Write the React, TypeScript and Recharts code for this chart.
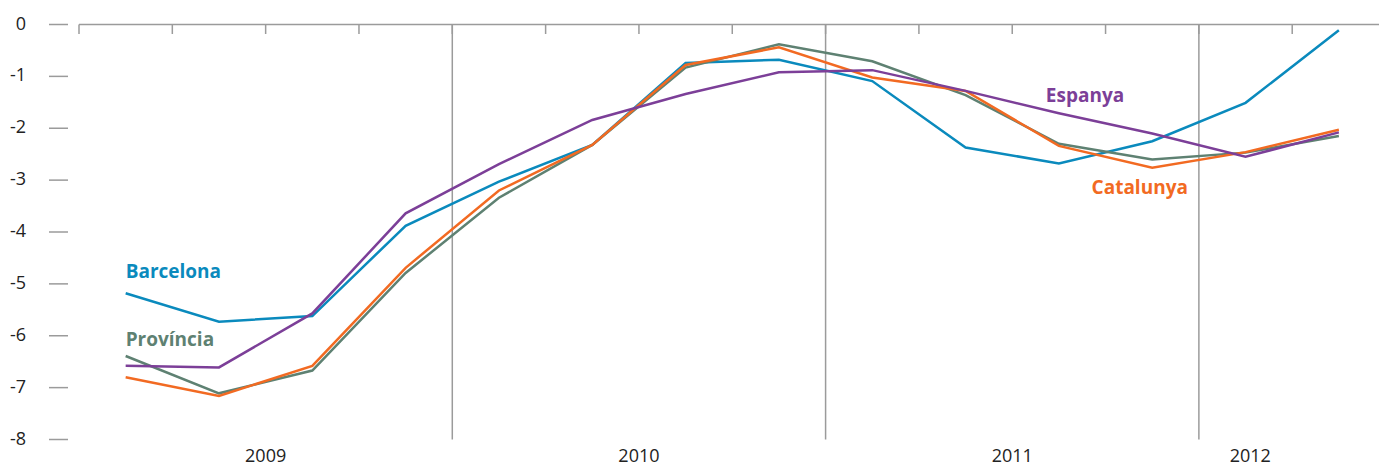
import { LineChart, Line, XAxis, YAxis, ReferenceLine, ReferenceDot } from "recharts";

// quarters 2009 T1 .. 2012 T2, x = quarter centre
const quarters = [0.5, 1.5, 2.5, 3.5, 4.5, 5.5, 6.5, 7.5, 8.5, 9.5, 10.5, 11.5, 12.5, 13.5];
const barcelona = [-5.18, -5.73, -5.62, -3.88, -3.03, -2.32, -0.74, -0.68, -1.09, -2.37, -2.68, -2.25, -1.51, -0.11];
const espanya = [-6.58, -6.61, -5.57, -3.64, -2.69, -1.84, -1.34, -0.92, -0.88, -1.28, -1.71, -2.1, -2.55, -2.08];
const catalunya = [-6.8, -7.16, -6.58, -4.69, -3.2, -2.32, -0.78, -0.44, -1.02, -1.28, -2.34, -2.76, -2.46, -2.03];
const provincia = [-6.39, -7.11, -6.67, -4.79, -3.34, -2.32, -0.83, -0.38, -0.71, -1.36, -2.3, -2.6, -2.47, -2.15];

const yTicks = [0, -1, -2, -3, -4, -5, -6, -7, -8];
const quarterTicks = [0, 1, 2, 3, 4, 5, 6, 7, 8, 9, 10, 11, 12, 13];
const yearBreaks = [4, 8, 12];
const yearTicks = [2, 6, 10, 12.55];
const yearLabels = ["2009", "2010", "2011", "2012"];

const data = quarters.map((q, i) => ({
  q,
  barcelona: barcelona[i],
  espanya: espanya[i],
  catalunya: catalunya[i],
  provincia: provincia[i],
}));

const GRID = "#9b9b9b";
const FONT = "'Open Sans', sans-serif";
const colors = {
  barcelona: "#0a8abd",
  espanya: "#7c3f98",
  catalunya: "#f26a22",
  provincia: "#5e8172",
};

const seriesLabels = [
  { text: "Barcelona", x: 0.5, y: -4.77, color: colors.barcelona },
  { text: "Província", x: 0.5, y: -6.08, color: colors.provincia },
  { text: "Espanya", x: 10.36, y: -1.36, color: colors.espanya },
  { text: "Catalunya", x: 10.85, y: -3.15, color: colors.catalunya },
];

const YTick = (props: any) => {
  const { y, payload } = props;
  return (
    <g>
      <line x1={49} x2={68} y1={y} y2={y} stroke={GRID} strokeWidth={1.5} />
      <text x={26} y={y} dy={5} textAnchor="end" fontSize={18} fontFamily={FONT} fill="#222">
        {payload.value}
      </text>
    </g>
  );
};

const QTick = (props: any) => {
  const { x } = props;
  return <line x1={x} x2={x} y1={24.5} y2={34} stroke={GRID} strokeWidth={1.5} />;
};

const YearTick = (props: any) => {
  const { x, index } = props;
  return (
    <text x={x} y={462} textAnchor="middle" fontSize={18} fontFamily={FONT} fill="#222">
      {yearLabels[index]}
    </text>
  );
};

export default function App() {
  return (
    <div style={{ position: "absolute", left: 0, top: 0, background: "#fff" }}>
      <LineChart width={1379} height={466} data={data} margin={{ top: 0.5, right: 0, bottom: 0.5, left: 0 }}>
        <XAxis
          xAxisId="q"
          orientation="top"
          type="number"
          dataKey="q"
          domain={[0, 13.93]}
          allowDataOverflow
          ticks={quarterTicks}
          tick={<QTick />}
          tickLine={false}
          axisLine={{ stroke: GRID, strokeWidth: 1.5 }}
          height={24}
        />
        <XAxis
          xAxisId="y"
          type="number"
          dataKey="q"
          domain={[0, 13.93]}
          allowDataOverflow
          ticks={yearTicks}
          tick={<YearTick />}
          tickLine={false}
          axisLine={false}
          height={26}
        />
        <YAxis
          type="number"
          domain={[-8, 0]}
          ticks={yTicks}
          tick={<YTick />}
          tickLine={false}
          axisLine={false}
          width={79}
          interval={0}
        />
        {yearBreaks.map((b) => (
          <ReferenceLine key={b} xAxisId="q" x={b} stroke={GRID} strokeWidth={1.5} />
        ))}
        <Line xAxisId="q" dataKey="barcelona" stroke={colors.barcelona} strokeWidth={2.5} dot={false} isAnimationActive={false} />
        <Line xAxisId="q" dataKey="provincia" stroke={colors.provincia} strokeWidth={2.5} dot={false} isAnimationActive={false} />
        <Line xAxisId="q" dataKey="catalunya" stroke={colors.catalunya} strokeWidth={2.5} dot={false} isAnimationActive={false} />
        <Line xAxisId="q" dataKey="espanya" stroke={colors.espanya} strokeWidth={2.5} dot={false} isAnimationActive={false} />
        {seriesLabels.map((l) => (
          <ReferenceDot
            key={l.text}
            xAxisId="q"
            x={l.x}
            y={l.y}
            r={1}
            fill="none"
            stroke="none"
            label={(p: any) => (
              <text
                x={p.viewBox.x + 1}
                y={p.viewBox.y + 1}
                dy={6.5}
                fontSize={19}
                fontWeight={700}
                fontFamily={FONT}
                fill={l.color}
              >
                {l.text}
              </text>
            )}
          />
        ))}
      </LineChart>
    </div>
  );
}
